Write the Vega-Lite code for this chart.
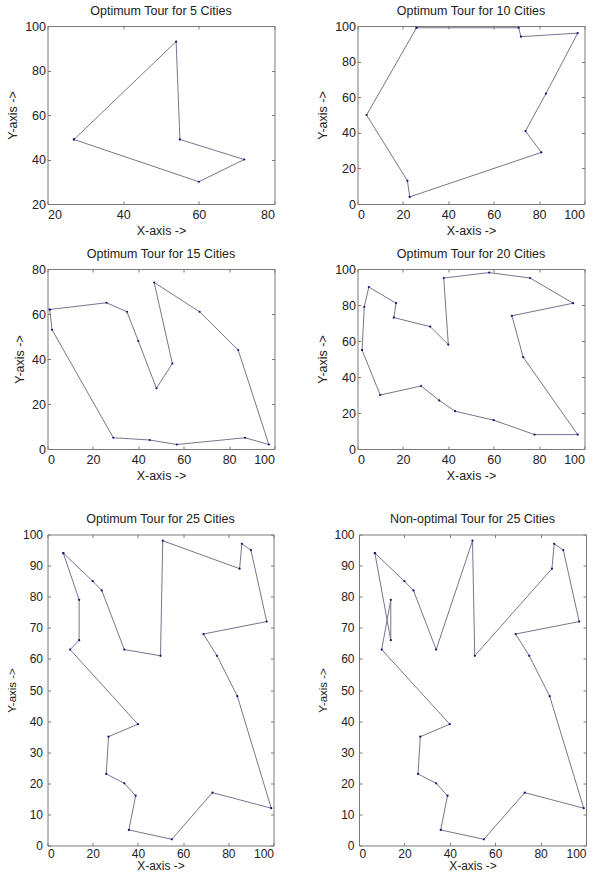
{
  "$schema": "https://vega.github.io/schema/vega-lite/v6.json",
  "padding": {"left": 5.5, "top": 4, "right": 0, "bottom": 0},
  "background": "white",
  "config": {
    "font": "Liberation Sans",
    "view": {"stroke": "#7a7a7a", "strokeWidth": 1},
    "axis": {"grid": false, "domain": false, "tickColor": "#7a7a7a", "tickSize": -3, "labelColor": "#222222", "labelFontSize": 12.5, "titleFontSize": 12.5, "titleFontWeight": "normal", "titleColor": "#222222"},
    "axisLeft": {"labelPadding": 5, "titlePadding": 5},
    "axisBottom": {"labelPadding": 7, "titlePadding": 4},
    "title": {"fontSize": 12.5, "fontWeight": "normal", "color": "#222222", "offset": 3},
    "line": {"color": "#767690", "strokeWidth": 1},
    "point": {"color": "#14147a", "filled": true, "size": 5, "opacity": 1}
  },
  "datasets": {
    "t5": [
      {"i": 0, "x": 27, "y": 49}, {"i": 1, "x": 54, "y": 93}, {"i": 2, "x": 55, "y": 49},
      {"i": 3, "x": 72, "y": 40}, {"i": 4, "x": 60, "y": 30}, {"i": 5, "x": 27, "y": 49}
    ],
    "t10": [
      {"i": 0, "x": 26, "y": 99}, {"i": 1, "x": 71, "y": 99}, {"i": 2, "x": 72, "y": 94},
      {"i": 3, "x": 97, "y": 96}, {"i": 4, "x": 83, "y": 62}, {"i": 5, "x": 74, "y": 41},
      {"i": 6, "x": 81, "y": 29}, {"i": 7, "x": 23, "y": 4}, {"i": 8, "x": 22, "y": 13},
      {"i": 9, "x": 4, "y": 50}, {"i": 10, "x": 26, "y": 99}
    ],
    "t15": [
      {"i": 0, "x": 1, "y": 62}, {"i": 1, "x": 26, "y": 65}, {"i": 2, "x": 35, "y": 61},
      {"i": 3, "x": 40, "y": 48}, {"i": 4, "x": 48, "y": 27}, {"i": 5, "x": 55, "y": 38},
      {"i": 6, "x": 47, "y": 74}, {"i": 7, "x": 67, "y": 61}, {"i": 8, "x": 84, "y": 44},
      {"i": 9, "x": 97.5, "y": 2}, {"i": 10, "x": 87, "y": 5}, {"i": 11, "x": 57, "y": 2},
      {"i": 12, "x": 45, "y": 4}, {"i": 13, "x": 29, "y": 5}, {"i": 14, "x": 2, "y": 53},
      {"i": 15, "x": 1, "y": 62}
    ],
    "t20": [
      {"i": 0, "x": 2, "y": 55}, {"i": 1, "x": 3, "y": 79}, {"i": 2, "x": 5, "y": 90},
      {"i": 3, "x": 17, "y": 81}, {"i": 4, "x": 16, "y": 73}, {"i": 5, "x": 32, "y": 68},
      {"i": 6, "x": 40, "y": 58}, {"i": 7, "x": 38, "y": 95}, {"i": 8, "x": 58, "y": 98},
      {"i": 9, "x": 76, "y": 95}, {"i": 10, "x": 95, "y": 81}, {"i": 11, "x": 68, "y": 74},
      {"i": 12, "x": 73, "y": 51}, {"i": 13, "x": 97, "y": 8}, {"i": 14, "x": 78, "y": 8},
      {"i": 15, "x": 60, "y": 16}, {"i": 16, "x": 43, "y": 21}, {"i": 17, "x": 36, "y": 27},
      {"i": 18, "x": 28, "y": 35}, {"i": 19, "x": 10, "y": 30}, {"i": 20, "x": 2, "y": 55}
    ],
    "t25": [
      {"i": 0, "x": 7, "y": 94}, {"i": 1, "x": 20, "y": 85}, {"i": 2, "x": 24, "y": 82},
      {"i": 3, "x": 34, "y": 63}, {"i": 4, "x": 50, "y": 61}, {"i": 5, "x": 51, "y": 98},
      {"i": 6, "x": 85, "y": 89}, {"i": 7, "x": 86, "y": 97}, {"i": 8, "x": 90, "y": 95},
      {"i": 9, "x": 97, "y": 72}, {"i": 10, "x": 69, "y": 68}, {"i": 11, "x": 75, "y": 61},
      {"i": 12, "x": 84, "y": 48}, {"i": 13, "x": 99, "y": 12}, {"i": 14, "x": 73, "y": 17},
      {"i": 15, "x": 55, "y": 2}, {"i": 16, "x": 36, "y": 5}, {"i": 17, "x": 39, "y": 16},
      {"i": 18, "x": 34, "y": 20}, {"i": 19, "x": 26, "y": 23}, {"i": 20, "x": 27, "y": 35},
      {"i": 21, "x": 40, "y": 39}, {"i": 22, "x": 10, "y": 63}, {"i": 23, "x": 14, "y": 66},
      {"i": 24, "x": 14, "y": 79}, {"i": 25, "x": 7, "y": 94}
    ],
    "n25": [
      {"i": 0, "x": 7, "y": 94}, {"i": 1, "x": 20, "y": 85}, {"i": 2, "x": 24, "y": 82},
      {"i": 3, "x": 34, "y": 63}, {"i": 4, "x": 50, "y": 98}, {"i": 5, "x": 51, "y": 61},
      {"i": 6, "x": 85, "y": 89}, {"i": 7, "x": 86, "y": 97}, {"i": 8, "x": 90, "y": 95},
      {"i": 9, "x": 97, "y": 72}, {"i": 10, "x": 69, "y": 68}, {"i": 11, "x": 75, "y": 61},
      {"i": 12, "x": 84, "y": 48}, {"i": 13, "x": 99, "y": 12}, {"i": 14, "x": 73, "y": 17},
      {"i": 15, "x": 55, "y": 2}, {"i": 16, "x": 36, "y": 5}, {"i": 17, "x": 39, "y": 16},
      {"i": 18, "x": 34, "y": 20}, {"i": 19, "x": 26, "y": 23}, {"i": 20, "x": 27, "y": 35},
      {"i": 21, "x": 40, "y": 39}, {"i": 22, "x": 10, "y": 63}, {"i": 23, "x": 14, "y": 79},
      {"i": 24, "x": 14, "y": 66}, {"i": 25, "x": 7, "y": 94}
    ]
  },
  "vconcat": [
    {
      "columns": 2,
      "spacing": {"row": 9, "column": 40},
      "concat": [
        {
          "width": 227, "height": 178,
          "title": "Optimum Tour for 5 Cities",
          "data": {"name": "t5"},
          "layer": [
            {"mark": "line", "encoding": {
              "x": {"field": "x", "type": "quantitative", "scale": {"domain": [20, 80], "nice": false, "zero": false}, "axis": {"values": [20, 40, 60, 80], "title": "X-axis ->"}},
              "y": {"field": "y", "type": "quantitative", "scale": {"domain": [20, 100], "nice": false, "zero": false}, "axis": {"values": [20, 40, 60, 80, 100], "title": "Y-axis ->"}},
              "order": {"field": "i"}}},
            {"mark": "point", "encoding": {
              "x": {"field": "x", "type": "quantitative", "axis": {"orient": "top", "values": [20, 40, 60, 80], "labels": false, "title": null}},
              "y": {"field": "y", "type": "quantitative", "axis": {"orient": "right", "values": [20, 40, 60, 80, 100], "labels": false, "title": null}}}}
          ],
          "resolve": {"axis": {"x": "independent", "y": "independent"}}
        },
        {
          "width": 227, "height": 178,
          "title": "Optimum Tour for 10 Cities",
          "data": {"name": "t10"},
          "layer": [
            {"mark": "line", "encoding": {
              "x": {"field": "x", "type": "quantitative", "scale": {"domain": [0, 100], "nice": false}, "axis": {"values": [0, 20, 40, 60, 80, 100], "title": "X-axis ->"}},
              "y": {"field": "y", "type": "quantitative", "scale": {"domain": [0, 100], "nice": false}, "axis": {"values": [0, 20, 40, 60, 80, 100], "title": "Y-axis ->"}},
              "order": {"field": "i"}}},
            {"mark": "point", "encoding": {
              "x": {"field": "x", "type": "quantitative", "axis": {"orient": "top", "values": [0, 20, 40, 60, 80, 100], "labels": false, "title": null}},
              "y": {"field": "y", "type": "quantitative", "axis": {"orient": "right", "values": [0, 20, 40, 60, 80, 100], "labels": false, "title": null}}}}
          ],
          "resolve": {"axis": {"x": "independent", "y": "independent"}}
        },
        {
          "width": 227, "height": 180,
          "title": "Optimum Tour for 15 Cities",
          "data": {"name": "t15"},
          "layer": [
            {"mark": "line", "encoding": {
              "x": {"field": "x", "type": "quantitative", "scale": {"domain": [0, 100], "nice": false}, "axis": {"values": [0, 20, 40, 60, 80, 100], "title": "X-axis ->"}},
              "y": {"field": "y", "type": "quantitative", "scale": {"domain": [0, 80], "nice": false}, "axis": {"values": [0, 20, 40, 60, 80], "title": "Y-axis ->"}},
              "order": {"field": "i"}}},
            {"mark": "point", "encoding": {
              "x": {"field": "x", "type": "quantitative", "axis": {"orient": "top", "values": [0, 20, 40, 60, 80, 100], "labels": false, "title": null}},
              "y": {"field": "y", "type": "quantitative", "axis": {"orient": "right", "values": [0, 20, 40, 60, 80], "labels": false, "title": null}}}}
          ],
          "resolve": {"axis": {"x": "independent", "y": "independent"}}
        },
        {
          "width": 227, "height": 180,
          "title": "Optimum Tour for 20 Cities",
          "data": {"name": "t20"},
          "layer": [
            {"mark": "line", "encoding": {
              "x": {"field": "x", "type": "quantitative", "scale": {"domain": [0, 100], "nice": false}, "axis": {"values": [0, 20, 40, 60, 80, 100], "title": "X-axis ->"}},
              "y": {"field": "y", "type": "quantitative", "scale": {"domain": [0, 100], "nice": false}, "axis": {"values": [0, 20, 40, 60, 80, 100], "title": "Y-axis ->"}},
              "order": {"field": "i"}}},
            {"mark": "point", "encoding": {
              "x": {"field": "x", "type": "quantitative", "axis": {"orient": "top", "values": [0, 20, 40, 60, 80, 100], "labels": false, "title": null}},
              "y": {"field": "y", "type": "quantitative", "axis": {"orient": "right", "values": [0, 20, 40, 60, 80, 100], "labels": false, "title": null}}}}
          ],
          "resolve": {"axis": {"x": "independent", "y": "independent"}}
        }
      ]
    },
    {
      "spacing": 42.5,
      "hconcat": [
        {
          "width": 226, "height": 311,
          "title": {"text": "Optimum Tour for 25 Cities", "fontSize": 12.5, "offset": 3},
          "data": {"name": "t25"},
          "layer": [
            {"mark": "line", "encoding": {
              "x": {"field": "x", "type": "quantitative", "scale": {"domain": [0, 100], "nice": false}, "axis": {"values": [0, 20, 40, 60, 80, 100], "title": "X-axis ->", "labelFontSize": 12, "titleFontSize": 12, "labelPadding": 6, "titlePadding": 1}},
              "y": {"field": "y", "type": "quantitative", "scale": {"domain": [0, 100], "nice": false}, "axis": {"values": [0, 10, 20, 30, 40, 50, 60, 70, 80, 90, 100], "title": "Y-axis ->", "labelFontSize": 12, "titleFontSize": 11.5, "labelPadding": 8, "titlePadding": 5}},
              "order": {"field": "i"}}},
            {"mark": "point", "encoding": {
              "x": {"field": "x", "type": "quantitative", "axis": {"orient": "top", "values": [0, 20, 40, 60, 80, 100], "labels": false, "title": null}},
              "y": {"field": "y", "type": "quantitative", "axis": {"orient": "right", "values": [0, 10, 20, 30, 40, 50, 60, 70, 80, 90, 100], "labels": false, "title": null}}}}
          ],
          "resolve": {"axis": {"x": "independent", "y": "independent"}}
        },
        {
          "width": 227, "height": 311,
          "title": {"text": "Non-optimal Tour for 25 Cities", "fontSize": 12.5, "offset": 3},
          "data": {"name": "n25"},
          "layer": [
            {"mark": "line", "encoding": {
              "x": {"field": "x", "type": "quantitative", "scale": {"domain": [0, 100], "nice": false}, "axis": {"values": [0, 20, 40, 60, 80, 100], "title": "X-axis ->", "labelFontSize": 12, "titleFontSize": 12, "labelPadding": 6, "titlePadding": 1}},
              "y": {"field": "y", "type": "quantitative", "scale": {"domain": [0, 100], "nice": false}, "axis": {"values": [0, 10, 20, 30, 40, 50, 60, 70, 80, 90, 100], "title": "Y-axis ->", "labelFontSize": 12, "titleFontSize": 11.5, "labelPadding": 8, "titlePadding": 5}},
              "order": {"field": "i"}}},
            {"mark": "point", "encoding": {
              "x": {"field": "x", "type": "quantitative", "axis": {"orient": "top", "values": [0, 20, 40, 60, 80, 100], "labels": false, "title": null}},
              "y": {"field": "y", "type": "quantitative", "axis": {"orient": "right", "values": [0, 10, 20, 30, 40, 50, 60, 70, 80, 90, 100], "labels": false, "title": null}}}}
          ],
          "resolve": {"axis": {"x": "independent", "y": "independent"}}
        }
      ]
    }
  ],
  "spacing": 29.5
}
